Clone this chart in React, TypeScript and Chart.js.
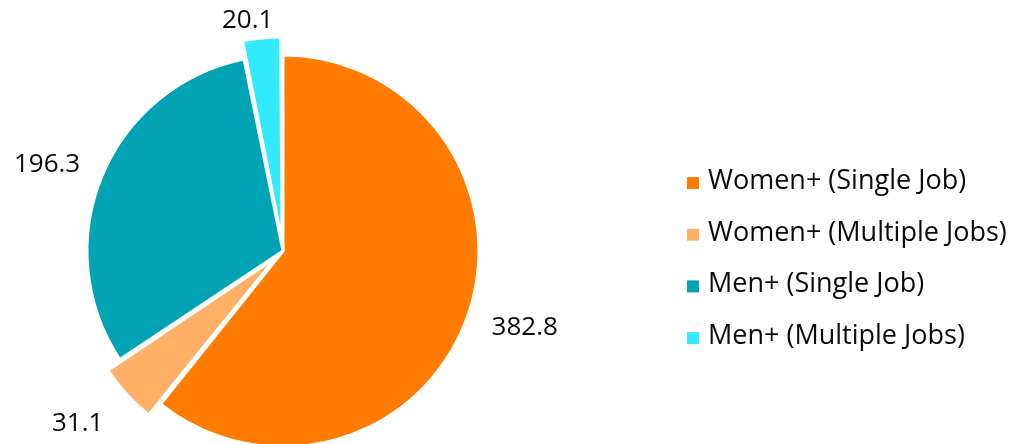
import React, { useEffect, useRef } from "react";
import { Chart, registerables } from "chart.js";

Chart.register(...registerables);

const categories = [
  "Women+ (Single Job)",
  "Women+ (Multiple Jobs)",
  "Men+ (Single Job)",
  "Men+ (Multiple Jobs)",
];
const values = [382.8, 31.1, 196.3, 20.1];
const valueLabels = ["382.8", "31.1", "196.3", "20.1"];
const colors = ["#FF7C00", "#FFB066", "#00A3B4", "#33EAFF"];
const explode = [0, 38, 0, 40];

// label styling (distance from centre, fine nudge)
const labelRadius = [254, 269, 251, 233];
const labelNudge: [number, number][] = [
  [2, -7],
  [-7, -9],
  [-4, 9],
  [-12, 1],
];

const FONT = '"Open Sans", "DejaVu Sans", sans-serif';
const TEXT_COLOR = "#0a0a0a";

const labelsPlugin = {
  id: "sliceLabels",
  afterDatasetsDraw(chart: any) {
    const ctx = chart.ctx as CanvasRenderingContext2D;
    const meta = chart.getDatasetMeta(0);
    ctx.save();
    ctx.font = `26px ${FONT}`;
    ctx.fillStyle = TEXT_COLOR;
    ctx.textAlign = "center";
    ctx.textBaseline = "middle";
    meta.data.forEach((arc: any, i: number) => {
      const { x, y, startAngle, endAngle } = arc.getProps(
        ["x", "y", "startAngle", "endAngle"],
        true
      );
      const mid = (startAngle + endAngle) / 2;
      const r = labelRadius[i];
      const tx = x + Math.cos(mid) * r + labelNudge[i][0];
      const ty = y + Math.sin(mid) * r + labelNudge[i][1];
      ctx.fillText(valueLabels[i], tx, ty);
    });
    ctx.restore();
  },
};

const legendPlugin = {
  id: "customLegend",
  afterDraw(chart: any) {
    const ctx = chart.ctx as CanvasRenderingContext2D;
    const boxX = 687;
    const textX = 708;
    const firstBaseline = 189;
    const rowGap = 51.7;
    const box = 12;
    ctx.save();
    ctx.font = `27px ${FONT}`;
    ctx.textAlign = "left";
    ctx.textBaseline = "alphabetic";
    const labels: string[] = chart.data.labels;
    const bg: string[] = chart.data.datasets[0].backgroundColor;
    labels.forEach((label, i) => {
      const base = firstBaseline + i * rowGap;
      ctx.fillStyle = bg[i];
      ctx.fillRect(boxX, base - box, box, box);
      ctx.fillStyle = TEXT_COLOR;
      ctx.fillText(label, textX, base);
    });
    ctx.restore();
  },
};

export default function App() {
  const canvasRef = useRef<HTMLCanvasElement | null>(null);

  useEffect(() => {
    const canvas = canvasRef.current;
    if (!canvas) return;
    const chart = new Chart(canvas, {
      type: "pie",
      data: {
        labels: categories,
        datasets: [
          {
            data: values,
            backgroundColor: colors,
            borderColor: "#FFFFFF",
            borderWidth: 3,
            offset: explode,
            radius: 196,
          } as any,
        ],
      },
      options: {
        responsive: false,
        animation: false,
        layout: { padding: { left: 0, right: 448, top: 58, bottom: 0 } },
        plugins: {
          legend: { display: false },
          tooltip: { enabled: false },
        },
      },
      plugins: [labelsPlugin, legendPlugin],
    });
    return () => chart.destroy();
  }, []);

  return (
    <div
      style={{
        position: "absolute",
        left: 0,
        top: 0,
        width: 1014,
        height: 444,
        background: "#FFFFFF",
      }}
    >
      <canvas ref={canvasRef} width={1014} height={444} />
    </div>
  );
}
